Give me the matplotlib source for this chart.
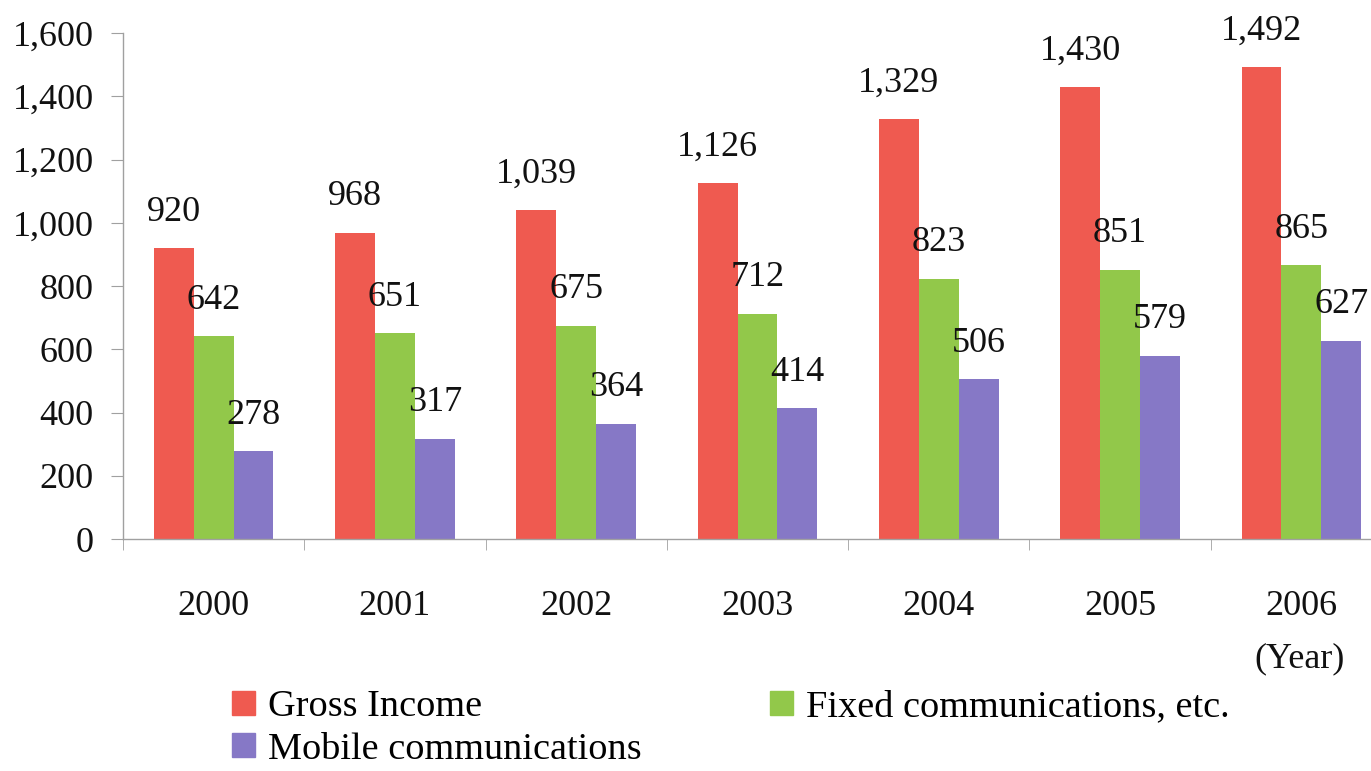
import matplotlib
matplotlib.use('Agg')
import matplotlib.pyplot as plt
import matplotlib.patches as mpatches
import numpy as np
from matplotlib.ticker import FuncFormatter

years = ['2000', '2001', '2002', '2003', '2004', '2005', '2006']
gross_income = [920, 968, 1039, 1126, 1329, 1430, 1492]
fixed_comm = [642, 651, 675, 712, 823, 851, 865]
mobile_comm = [278, 317, 364, 414, 506, 579, 627]

series_names = ['Gross Income', 'Fixed communications, etc.', 'Mobile communications']
colors = ['#EF5A50', '#92C84A', '#8678C6']

plt.rcParams['font.family'] = ['Liberation Serif', 'DejaVu Serif']

fig = plt.figure(figsize=(13.71, 7.71), dpi=100)
fig.patch.set_facecolor('white')
ax = fig.add_axes([0.0897, 0.3009, 0.9256, 0.6563])

x = np.arange(len(years))
width = 0.22
all_series = [gross_income, fixed_comm, mobile_comm]
for i, (vals, col) in enumerate(zip(all_series, colors)):
    pos = x + (i - 1) * width
    ax.bar(pos, vals, width=width, color=col, linewidth=0)
    for px, v in zip(pos, vals):
        ax.annotate(f'{v:,}', (px, v), xytext=(0, 14), textcoords='offset points',
                    ha='center', va='bottom', fontsize=26, color='#111111')

ax.set_xlim(-0.5, len(years) - 0.5)
ax.set_ylim(0, 1600)
ax.set_yticks(np.arange(0, 1601, 200))
ax.yaxis.set_major_formatter(FuncFormatter(lambda v, p: f'{int(v):,}'))

ax.set_xticks(x)
ax.set_xticklabels(years)
ax.set_xticks(np.arange(-0.5, len(years), 1.0), minor=True)
ax.tick_params(axis='x', which='major', length=0, pad=37, labelsize=26, colors='#111111')
ax.tick_params(axis='x', which='minor', length=8, color='#a0a0a0', direction='out')
ax.tick_params(axis='y', length=9, color='#a0a0a0', pad=12, labelsize=26, labelcolor='#111111')

for s in ['top', 'right']:
    ax.spines[s].set_visible(False)
for s in ['left', 'bottom']:
    ax.spines[s].set_color('#a0a0a0')
    ax.spines[s].set_linewidth(1.0)

fig.text(1300 / 1371, 1 - 659 / 771, '(Year)', ha='center', va='center',
         fontsize=26, color='#111111')

handles = [mpatches.Patch(color=colors[0], label=series_names[0]),
           mpatches.Patch(color=colors[2], label=series_names[2]),
           mpatches.Patch(color=colors[1], label=series_names[1])]
fig.legend(handles=handles, ncol=2, loc='upper left',
           bbox_to_anchor=(232 / 1371, 1 - 690 / 771), frameon=False,
           fontsize=27.5, handlelength=0.6, handleheight=0.6, handletextpad=0.35,
           labelspacing=0.2, columnspacing=3.35, borderpad=0, borderaxespad=0)

fig.savefig('out.png', dpi=100, facecolor='white')
